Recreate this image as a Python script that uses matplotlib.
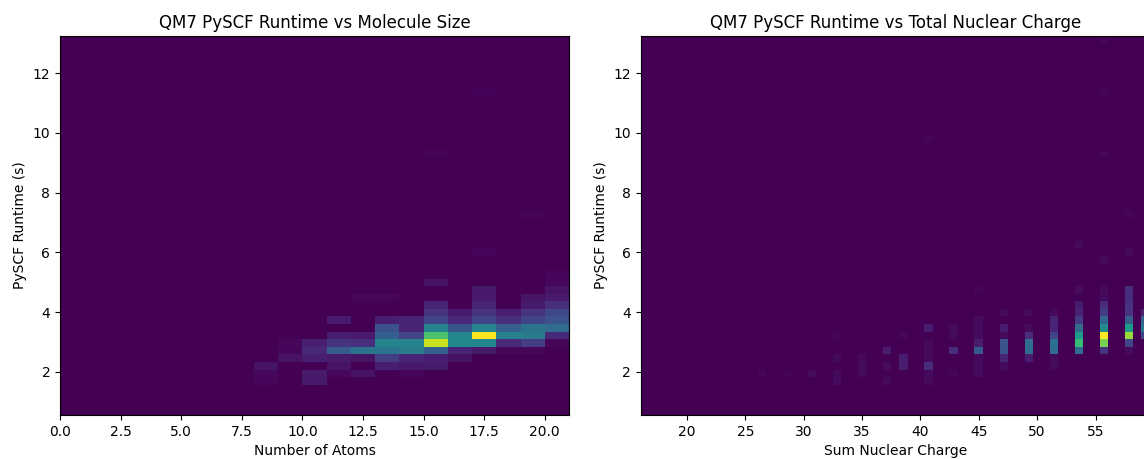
import numpy as np
import matplotlib
matplotlib.use("Agg")
import matplotlib.pyplot as plt

# ---------------- data ----------------
# Left panel: number of atoms vs runtime (counts per 2D-histogram cell)
left_atoms = [8, 8, 8,
              9, 9, 9,
              10, 10, 10, 10, 10,
              11, 11, 11, 11, 11, 11, 11,
              12, 12, 12, 12, 12, 12,
              13, 13, 13, 13, 13, 13, 13, 13,
              14, 14, 14, 14, 14, 14, 14, 14,
              15, 15, 15, 15, 15, 15, 15, 15, 15, 15, 15,
              16, 16, 16, 16, 16, 16, 16,
              17, 17, 17, 17, 17, 17, 17, 17, 17, 17, 17,
              18, 18, 18, 18, 18, 18,
              19, 19, 19, 19, 19, 19, 19, 19, 19,
              20, 20, 20, 20, 20, 20, 20, 20, 20, 20]
left_runtime = [2.21, 1.95, 1.70,
                2.46, 2.72, 2.97,
                2.97, 2.72, 2.46, 1.95, 1.70,
                3.73, 3.22, 2.97, 2.72, 2.46, 2.21, 1.95,
                4.49, 3.22, 2.97, 2.72, 2.46, 1.95,
                4.49, 3.73, 3.48, 3.22, 2.97, 2.72, 2.46, 2.21,
                3.73, 3.48, 3.22, 2.97, 2.72, 2.46, 2.21, 1.95,
                9.31, 5.00, 4.24, 3.98, 3.73, 3.48, 3.22, 2.97, 2.72, 2.46, 2.21,
                3.98, 3.73, 3.48, 3.22, 2.97, 2.72, 2.46,
                11.34, 6.01, 4.74, 4.49, 4.24, 3.98, 3.73, 3.48, 3.22, 2.97, 2.72,
                3.98, 3.73, 3.48, 3.22, 2.97, 2.72,
                7.28, 4.49, 4.24, 3.98, 3.73, 3.48, 3.22, 2.97, 2.72,
                5.25, 5.00, 4.74, 4.49, 4.24, 3.98, 3.73, 3.48, 3.22, 2.97]
left_counts = [6, 2, 2,
               6, 2, 2,
               10, 14, 10, 8, 8,
               8, 10, 18, 34, 8, 6, 2,
               2, 8, 16, 46, 6, 6,
               2, 10, 30, 36, 54, 46, 22, 10,
               12, 12, 24, 54, 50, 12, 8, 2,
               1, 6, 12, 18, 24, 54, 86, 110, 36, 10, 8,
               8, 14, 32, 56, 56, 12, 6,
               1, 2, 8, 8, 12, 18, 24, 54, 120, 56, 8,
               10, 16, 36, 52, 14, 2,
               1, 6, 8, 18, 24, 46, 50, 22, 2,
               2, 2, 6, 8, 16, 26, 30, 42, 14, 2]

# Right panel: sum of nuclear charge vs runtime
right_charge = [26.40, 28.55, 30.69,
                32.83, 32.83, 32.83, 32.83,
                34.98, 34.98, 34.98,
                37.12, 37.12, 37.12,
                38.55, 38.55, 38.55,
                40.70, 40.70, 40.70, 40.70, 40.70, 40.70, 40.70, 40.70,
                42.84, 42.84, 42.84, 42.84,
                44.99, 44.99, 44.99, 44.99, 44.99, 44.99, 44.99, 44.99, 44.99,
                47.13, 47.13, 47.13, 47.13, 47.13, 47.13, 47.13,
                49.28, 49.28, 49.28, 49.28, 49.28, 49.28,
                51.42, 51.42, 51.42, 51.42, 51.42, 51.42, 51.42, 51.42,
                53.56, 53.56, 53.56, 53.56, 53.56, 53.56, 53.56, 53.56, 53.56,
                55.71, 55.71, 55.71, 55.71, 55.71, 55.71, 55.71, 55.71, 55.71, 55.71, 55.71, 55.71, 55.71,
                57.85, 57.85, 57.85, 57.85, 57.85, 57.85, 57.85, 57.85, 57.85, 57.85, 57.85,
                59.28, 59.28, 59.28, 59.28]
right_runtime = [1.95, 1.95, 1.95,
                 1.95, 2.46, 1.70, 3.22,
                 1.95, 2.21, 2.46,
                 2.72, 2.21, 1.70,
                 2.21, 2.46, 3.22,
                 9.82, 3.48, 2.97, 2.72, 2.46, 2.21, 1.95, 1.70,
                 3.48, 3.22, 2.72, 1.95,
                 4.74, 3.73, 3.48, 3.22, 2.97, 2.72, 2.46, 2.21, 1.95,
                 3.98, 3.48, 3.22, 2.97, 2.72, 2.46, 2.21,
                 3.98, 3.48, 3.22, 2.97, 2.72, 2.46,
                 3.98, 3.73, 3.48, 3.22, 2.97, 2.72, 2.46, 2.21,
                 6.27, 4.74, 4.24, 3.98, 3.73, 3.48, 3.22, 2.97, 2.72,
                 13.11, 11.34, 9.31, 5.76, 4.74, 4.49, 4.24, 3.98, 3.73, 3.48, 3.22, 2.97, 2.72,
                 7.28, 6.01, 4.74, 4.49, 4.24, 3.98, 3.73, 3.48, 3.22, 2.97, 2.72,
                 3.98, 3.73, 3.48, 3.22]
right_counts = [1, 1, 2,
                2, 2, 2, 1,
                2, 2, 2,
                6, 2, 2,
                6, 6, 1,
                1, 6, 2, 2, 2, 10, 2, 2,
                2, 2, 10, 1,
                1, 2, 2, 2, 6, 22, 2, 2, 2,
                2, 6, 2, 20, 20, 8, 2,
                2, 2, 10, 28, 28, 6,
                2, 8, 8, 16, 30, 28, 2, 2,
                2, 2, 6, 8, 14, 28, 44, 54, 28,
                1, 1, 1, 2, 2, 2, 10, 14, 26, 38, 80, 64, 12,
                1, 2, 10, 10, 12, 12, 24, 44, 68, 16, 2,
                8, 24, 32, 16]

# histogram bin edges
runtime_range = (0.56, 13.24)
runtime_bins = 50
atoms_range = (0, 21)
atoms_bins = 21
charge_range = (16.04, 59.64)
charge_bins = 61

# ---------------- figure ----------------
W, H = 1144, 459
fig = plt.figure(figsize=(W / 100, H / 100), dpi=100)

ax1 = fig.add_axes([60 / W, 44 / H, 509 / W, 379 / H])
ax2 = fig.add_axes([640.7 / W, 44 / H, 509 / W, 379 / H])

y_edges = np.linspace(*runtime_range, runtime_bins + 1)
x1_edges = np.linspace(*atoms_range, atoms_bins + 1)
x2_edges = np.linspace(*charge_range, charge_bins + 1)

ax1.hist2d(left_atoms, left_runtime, bins=[x1_edges, y_edges],
           weights=left_counts, cmap="viridis")
ax1.set_title("QM7 PySCF Runtime vs Molecule Size")
ax1.set_xlabel("Number of Atoms")
ax1.set_ylabel("PySCF Runtime (s)")

ax2.hist2d(right_charge, right_runtime, bins=[x2_edges, y_edges],
           weights=right_counts, cmap="viridis")
ax2.set_title("QM7 PySCF Runtime vs Total Nuclear Charge")
ax2.set_xlabel("Sum Nuclear Charge")
ax2.set_ylabel("PySCF Runtime (s)")

fig.savefig("out.png", dpi=100)
